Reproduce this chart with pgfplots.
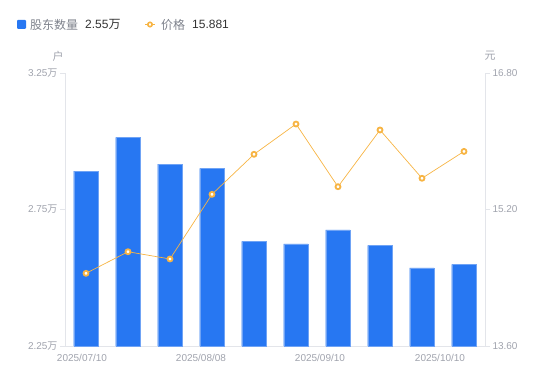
\documentclass[border=0pt]{standalone}
\usepackage{pgfplots}
\pgfplotsset{compat=1.18}
\usepackage{fontspec}
\setmainfont{Liberation Sans}
\newfontfamily\cjk{Noto Sans CJK SC}
\definecolor{barblue}{HTML}{2777F2}
\definecolor{baredge}{HTML}{6FA3F5}
\definecolor{lineorange}{HTML}{F7B443}
\definecolor{axisgray}{HTML}{E3E5EA}
\definecolor{labgray}{HTML}{A0A3AD}
\definecolor{leggray}{HTML}{7E828C}
\definecolor{legdark}{HTML}{333333}
\begin{document}
\begin{tikzpicture}
\useasboundingbox (0,0) rectangle (550pt,381pt);
\pgfplotsset{
  common/.style={
    at={(65pt,35pt)}, anchor=south west,
    scale only axis, width=420pt, height=273pt,
    xmin=-0.5, xmax=9.5,
    axis line style={draw=axisgray, line width=0.8pt},
    tick align=outside, major tick length=5pt,
    tick label style={font=\fontsize{10}{12}\selectfont, text=labgray},
    y tick style={draw=axisgray, line width=0.8pt},
    x tick style={draw=none},
    clip=false,
  }
}
\begin{axis}[common,
  ymin=2.25, ymax=3.25,
  axis x line*=bottom, axis y line*=left,
  ytick={2.25,2.75,3.25},
  yticklabels={2.25{\cjk 万},2.75{\cjk 万},3.25{\cjk 万}},
  yticklabel style={xshift=1pt},
  xtick={-0.095,2.738,5.571,8.429},
  xticklabels={2025/07/10,2025/08/08,2025/09/10,2025/10/10},
  xticklabel style={yshift=0pt},
]
\addplot[ybar, bar width=24.5pt, fill=barblue, draw=baredge, line width=0.4pt]
coordinates {(0,2.891) (1,3.014) (2,2.916) (3,2.901) (4,2.633) (5,2.624) (6,2.675) (7,2.619) (8,2.536) (9,2.549)};
\end{axis}
\begin{axis}[common,
  ymin=13.6, ymax=16.8,
  axis x line=none, axis y line*=right,
  ytick={13.6,15.2,16.8},
  yticklabels={13.60,15.20,16.80},
  yticklabel style={xshift=-1pt},
]
\addplot[color=lineorange, line width=0.7pt, mark=*, mark size=2.5pt,
  mark options={draw=lineorange, fill=white, line width=1.8pt}]
coordinates {(0,14.452) (1,14.705) (2,14.620) (3,15.378) (4,15.847) (5,16.202) (6,15.467) (7,16.132) (8,15.566) (9,15.881)};
\end{axis}
% axis unit labels
\node[text=labgray, font=\fontsize{11}{13}\cjk] at (58pt,325pt) {户};
\node[text=labgray, font=\fontsize{11}{13}\cjk] at (490pt,325pt) {元};
% legend
\fill[barblue, rounded corners=1pt] (17pt,352pt) rectangle (26pt,361pt);
\node[anchor=west, inner sep=0pt, text=leggray, font=\fontsize{12}{14}\cjk] at (30pt,356.5pt) {股东数量};
\node[anchor=west, inner sep=0pt, text=legdark, font=\fontsize{12}{14}\selectfont] at (85pt,356.5pt) {2.55{\cjk 万}};
\draw[lineorange, line width=1.2pt] (145pt,356.5pt) -- (155pt,356.5pt);
\draw[lineorange, fill=white, line width=1.6pt] (150pt,356.5pt) circle (2.2pt);
\node[anchor=west, inner sep=0pt, text=leggray, font=\fontsize{12}{14}\cjk] at (161pt,356.5pt) {价格};
\node[anchor=west, inner sep=0pt, text=legdark, font=\fontsize{12}{14}\selectfont] at (192pt,356.5pt) {15.881};
\end{tikzpicture}
\end{document}
